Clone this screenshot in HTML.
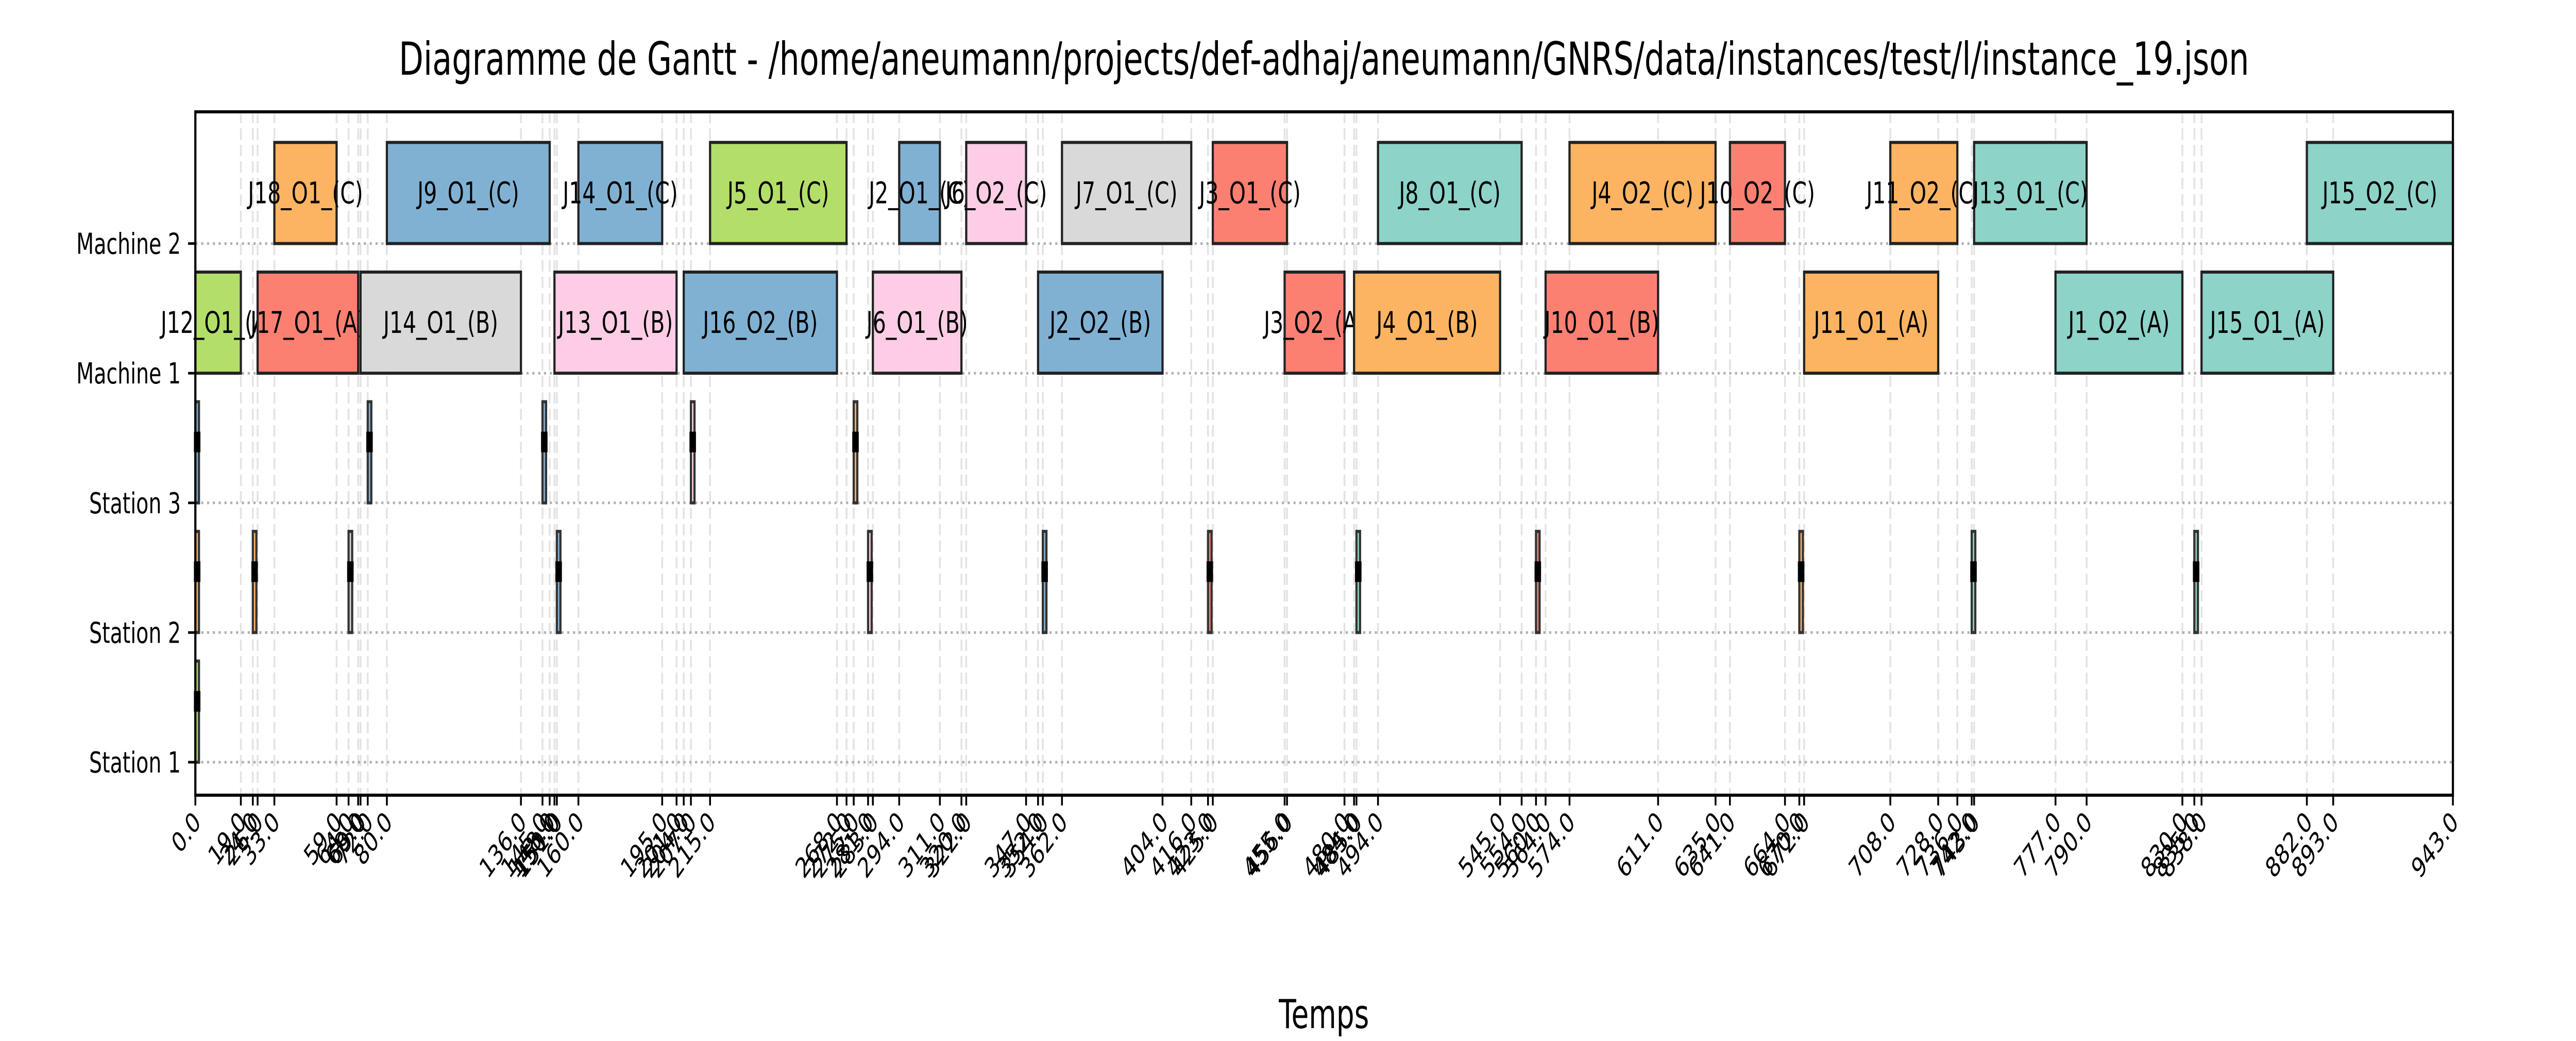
<!DOCTYPE html>
<html><head><meta charset="utf-8"><style>
html,body{margin:0;padding:0;background:#fff;width:100%;height:100%;overflow:hidden;}
svg{display:block;width:100vw;height:100vh;font-family:"DejaVu Sans","Liberation Sans",sans-serif;}
</style></head><body>
<svg id="chart" viewBox="0 0 7094 2020" preserveAspectRatio="none" xmlns="http://www.w3.org/2000/svg">
<rect width="7094" height="2020" fill="#fff"/>
<text x="3646" y="145" font-size="88" text-anchor="middle">Diagramme de Gantt - /home/aneumann/projects/def-adhaj/aneumann/GNRS/data/instances/test/l/instance_19.json</text>
<g id="grid"></g>
<g id="bars"></g>
<g id="axes"></g>
<text x="3646" y="1995" font-size="78" text-anchor="middle">Temps</text>
</svg>
<script>
const rowNames = ["Station 1","Station 2","Station 3","Machine 1","Machine 2"];
const taskRows = [4,4,4,4,4,4,4,4,4,4,4,4,4,4, 3,3,3,3,3,3,3,3,3,3,3,3,3];
const taskLabels = ["J18_O1_(C)","J9_O1_(C)","J14_O1_(C)","J5_O1_(C)","J2_O1_(C)","J6_O2_(C)","J7_O1_(C)","J3_O1_(C)","J8_O1_(C)","J4_O2_(C)","J10_O2_(C)","J11_O2_(C)","J13_O1_(C)","J15_O2_(C)",
 "J12_O1_(A)","J17_O1_(A)","J14_O1_(B)","J13_O1_(B)","J16_O2_(B)","J6_O1_(B)","J2_O2_(B)","J3_O2_(A)","J4_O1_(B)","J10_O1_(B)","J11_O1_(A)","J1_O2_(A)","J15_O1_(A)"];
const taskStarts = [33,80,160,215,294,322,362,425,494,574,641,708,743,882, 0,26,69,150,204,283,352,455,484,564,672,777,838];
const taskEnds = [59,148,195,272,311,347,416,456,554,635,664,736,790,943, 19,68,136,201,268,320,404,480,545,611,728,830,893];
const taskColors = ["#fdb462","#80b1d3","#80b1d3","#b3de69","#80b1d3","#fccde5","#d9d9d9","#fb8072","#8dd3c7","#fdb462","#fb8072","#fdb462","#8dd3c7","#8dd3c7",
 "#b3de69","#fb8072","#d9d9d9","#fccde5","#80b1d3","#fccde5","#80b1d3","#fb8072","#fdb462","#fb8072","#fdb462","#8dd3c7","#8dd3c7"];
const stationRows = [2,2,2,2,2, 1,1,1,1,1,1,1,1,1,1,1,1, 0];
const stationStarts = [0,72,145,207,275, 0,24,64,151,281,354,423,485,560,670,742,835, 0];
const stationColors = ["#80b1d3","#80b1d3","#80b1d3","#fccde5","#fdb462", "#fdb462","#fdb462","#d9d9d9","#80b1d3","#fccde5","#80b1d3","#fb8072","#8dd3c7","#fb8072","#fdb462","#8dd3c7","#8dd3c7","#b3de69"];
const stationDur = 1.5;

const NS="http://www.w3.org/2000/svg";
const X0=538, X1=6755, XMAX=943, Y_TOP=217, Y_BOT=1543;
const xs = v => X0 + v*(X1-X0)/XMAX;
const ys = r => 1479 - r*251.6;
function mk(tag, attrs, parent){const e=document.createElementNS(NS,tag);for(const k in attrs)e.setAttribute(k,attrs[k]);parent.appendChild(e);return e;}
const grid=document.getElementById('grid'), bars=document.getElementById('bars'), axes=document.getElementById('axes');

let tickVals = new Set([0,XMAX]);
taskStarts.forEach(v=>tickVals.add(v)); taskEnds.forEach(v=>tickVals.add(v));
stationStarts.forEach(v=>tickVals.add(v));
tickVals=[...tickVals].sort((a,b)=>a-b);

tickVals.forEach(v=>{
  const l=mk('line',{x1:xs(v),x2:xs(v),y1:Y_TOP,y2:Y_BOT,stroke:'#e3e3e3','stroke-width':5,'stroke-dasharray':'22 10'},grid);
  
  
});
rowNames.forEach((n,i)=>{
  const l=mk('line',{x1:X0,x2:X1,y1:ys(i),y2:ys(i),stroke:'#b0b0b0','stroke-width':5,'stroke-dasharray':'6 10'},grid);
  
  
});

taskLabels.forEach((lab,i)=>{
  const x=xs(taskStarts[i]), w=xs(taskEnds[i])-x, yb=ys(taskRows[i]), h=0.78*251.6;
  const r=mk('rect',{x:x,y:yb-h,width:w,height:h,fill:taskColors[i],stroke:'#222','stroke-width':6},bars);
  
  
  const t=mk('text',{x:x+w/2,y:yb-h/2+20,'font-size':58,'text-anchor':'middle'},bars);
  t.textContent=lab;
  
  
});
stationStarts.forEach((s,i)=>{
  const x=xs(s), w=xs(s+stationDur)-x, yb=ys(stationRows[i]), h=0.78*251.6;
  const r=mk('rect',{x:x,y:yb-h,width:w,height:h,fill:stationColors[i],stroke:'#333','stroke-width':6},bars);
  
  
  const t=mk('rect',{x:x-4,y:yb-h/2-40,width:w+8,height:40,fill:'#000'},bars);
  
  
});

const frame=mk('rect',{x:X0,y:Y_TOP,width:X1-X0,height:Y_BOT-Y_TOP,fill:'none',stroke:'#000','stroke-width':6},axes);


rowNames.forEach((n,i)=>{
  const tk=mk('line',{x1:X0-20,x2:X0,y1:ys(i),y2:ys(i),stroke:'#000','stroke-width':5},axes);
  
  
  const t=mk('text',{x:X0-40,y:ys(i)+20,'font-size':56,'text-anchor':'end'},axes);
  t.textContent=n;
  
  
});
tickVals.forEach(v=>{
  const x=xs(v);
  const tk=mk('line',{x1:x,x2:x,y1:Y_BOT,y2:Y_BOT+20,stroke:'#000','stroke-width':5},axes);
  
  
  const t=mk('text',{x:x+18,y:Y_BOT+55,'font-size':54,'text-anchor':'end',transform:`rotate(-45 ${x+18} ${Y_BOT+55})`},axes);
  t.textContent=v.toFixed(1);
  
  
});
</script>
</body></html>
